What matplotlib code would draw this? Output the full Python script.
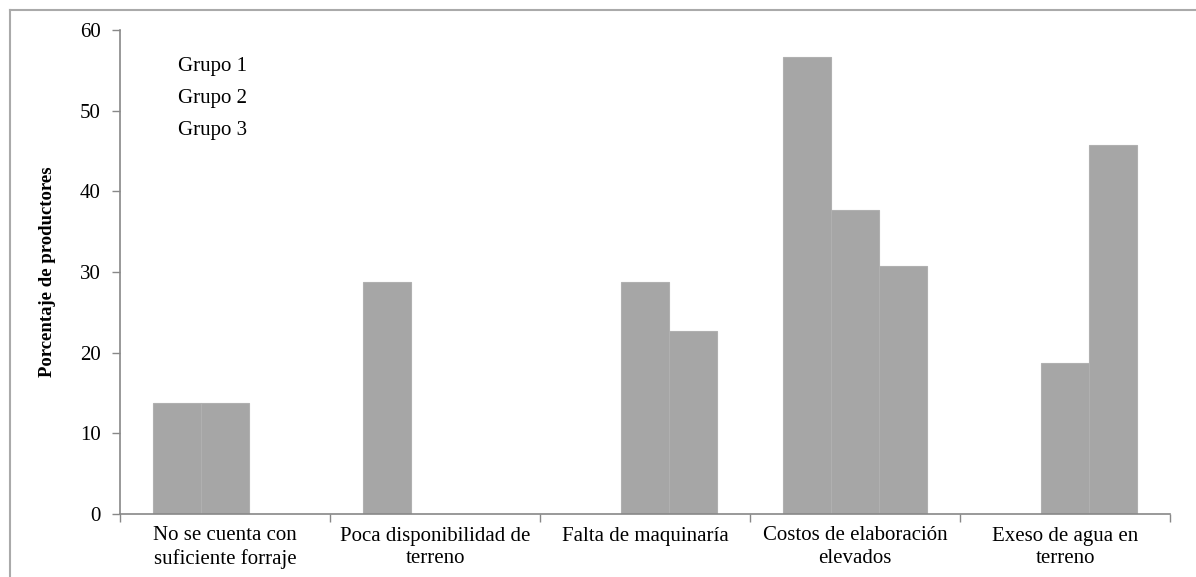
import matplotlib
matplotlib.use('Agg')
import matplotlib.pyplot as plt
from matplotlib.lines import Line2D
import numpy as np

plt.rcParams['font.family'] = ['Liberation Serif', 'DejaVu Serif']

categorias = ['No se cuenta con\nsuficiente forraje', 'Poca disponibilidad de\nterreno',
              'Falta de maquinaría', 'Costos de elaboración\nelevados', 'Exeso de agua en\nterreno']
grupo1 = [13.7, 28.7, 0, 56.6, 0]
grupo2 = [13.7, 0, 28.7, 37.7, 18.7]
grupo3 = [0, 0, 22.7, 30.7, 45.7]
grupos = ['Grupo 1', 'Grupo 2', 'Grupo 3']

fig = plt.figure(figsize=(11.96, 5.77), dpi=100)
ax = fig.add_axes([120/1196, 1 - 514/577, 1050/1196, 484/577])

x = np.arange(len(categorias))
w = 0.229
gris = '#a6a6a6'
series = [grupo1, grupo2, grupo3]
for i, (vals, lab) in enumerate(zip(series, grupos)):
    ax.bar(x + (i - 1) * w, vals, w, color=gris, edgecolor='#b0b0b0', linewidth=0.8, label=lab)

ax.set_xlim(-0.5, len(categorias) - 0.5)
ax.set_ylim(0, 60)
ax.set_yticks(range(0, 61, 10))
ax.set_xticks(x)
ax.set_xticklabels(categorias, fontsize=15, linespacing=1.25)
ax.set_xticks(np.arange(-0.5, len(categorias)), minor=True)
ax.tick_params(axis='x', which='major', length=0, pad=9)
ax.tick_params(axis='x', which='minor', length=6, color='#888888', width=1)
ax.tick_params(axis='y', length=6, color='#888888', width=1, labelsize=15, pad=8)

for s in ['top', 'right']:
    ax.spines[s].set_visible(False)
for s in ['left', 'bottom']:
    ax.spines[s].set_color('#888888')
    ax.spines[s].set_linewidth(1.2)
    ax.spines[s].set_zorder(5)

ax.set_ylabel('Porcentaje de productores', fontsize=13.5, fontweight='bold', labelpad=17)

leg = ax.legend(loc='upper left', bbox_to_anchor=(159/1196, 1 - 38/577), bbox_transform=fig.transFigure,
                frameon=False, fontsize=15, handlelength=0, handletextpad=0, labelspacing=0.6)
for h in leg.legend_handles:
    h.set_visible(False)

# marco exterior
fig.add_artist(Line2D([10/1196, 10/1196], [0, 1 - 10/577], color='#aaaaaa', lw=1.5, transform=fig.transFigure))
fig.add_artist(Line2D([10/1196, 1], [1 - 10/577, 1 - 10/577], color='#aaaaaa', lw=1.5, transform=fig.transFigure))

fig.savefig('out.png', dpi=100)
